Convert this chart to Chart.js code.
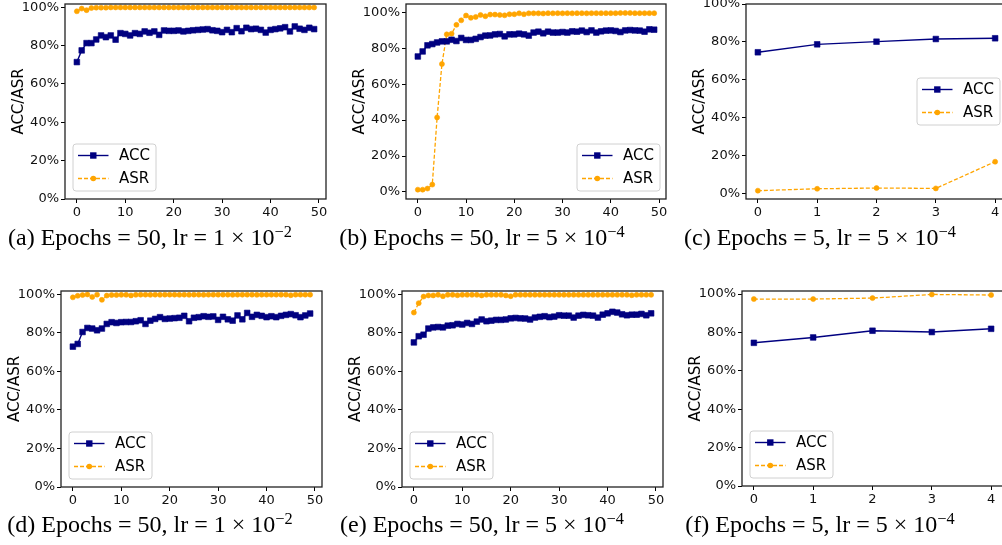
<!DOCTYPE html>
<html><head><meta charset="utf-8">
<script src="https://cdn.jsdelivr.net/npm/chart.js@4"></script>
<style>
html,body{margin:0;padding:0;background:#fff;overflow:hidden;width:1002px;height:545px;position:relative}
canvas{position:absolute}
.cap{position:absolute;font-family:'Liberation Serif','Times New Roman',serif;font-size:24px;color:#000;white-space:nowrap;transform:translateX(-50%);line-height:24px}
.cap sup{font-size:0.68em;vertical-align:0.5em;line-height:0}
</style></head><body>
<script>
// ---------- data ----------
const epochs50 = [0,1,2,3,4,5,6,7,8,9,10,11,12,13,14,15,16,17,18,19,20,21,22,23,24,25,26,27,28,29,30,31,32,33,34,35,36,37,38,39,40,41,42,43,44,45,46,47,48,49];
const epochs5 = [0,1,2,3,4];
const xTicks50 = [0,10,20,30,40,50];
const xTicks5 = [0,1,2,3,4];
const yTicks = [0,20,40,60,80,100];

const accA = [71.4,77.5,81.3,81.3,83.2,85.3,84.4,85.3,83.1,86.5,
              86.1,85.3,86.5,86.1,87.4,86.7,87.4,85.6,87.9,87.7,
              87.7,87.9,87.4,87.7,88.0,88.2,88.4,88.6,88.0,87.7,
              87.0,88.2,87.0,89.1,87.5,89.3,88.6,88.8,88.2,86.8,
              88.2,88.6,89.0,89.6,87.4,90.0,88.8,88.2,89.3,88.6];
const asrA = [97.9,99.3,98.5,99.6,99.8,99.8,99.8,99.9,99.9,99.9,
              99.9,99.9,99.9,99.9,99.9,99.9,99.9,99.9,99.9,99.9,
              99.9,99.9,99.9,99.9,99.9,99.9,99.9,99.9,99.9,99.9,
              99.9,99.9,99.9,99.9,99.9,99.9,99.9,99.9,99.9,99.9,
              99.9,99.9,99.9,99.9,99.9,99.9,99.9,99.9,99.9,99.9];

const accB = [75.4,78.2,81.6,82.3,83.2,83.8,83.8,84.7,84.0,85.7,
              84.6,84.6,85.2,86.2,87.0,87.1,87.7,87.9,86.6,87.7,
              87.7,88.1,87.7,87.0,88.7,89.2,88.3,89.2,88.7,88.7,
              89.0,88.7,89.4,89.2,89.8,89.0,89.9,88.7,89.4,89.8,
              89.9,89.6,89.0,89.9,90.1,89.9,89.8,89.2,90.5,90.3];
const asrB = [1.3,1.3,1.9,4.1,41.5,71.2,87.7,88.1,93.0,95.5,
              98.2,96.9,97.4,98.5,97.8,98.7,98.7,98.5,98.3,98.9,
              98.9,99.4,98.9,99.4,99.4,99.4,99.3,99.5,99.4,99.5,
              99.4,99.5,99.4,99.5,99.5,99.4,99.5,99.5,99.5,99.5,
              99.5,99.5,99.6,99.6,99.6,99.5,99.5,99.5,99.5,99.5];

const accC = [74.5,78.7,80.1,81.5,81.9];
const asrC = [1.4,2.4,2.8,2.6,16.7];

const accD = [72.9,74.3,80.5,82.6,82.3,81.4,82.3,84.7,85.6,85.2,
              85.6,85.7,85.7,86.1,86.6,84.7,86.4,87.3,88.2,87.3,
              87.5,87.7,87.9,88.9,86.1,87.9,88.2,88.7,88.4,88.6,
              86.8,88.4,87.1,86.4,89.1,87.1,90.4,88.4,89.4,88.9,
              88.2,88.7,88.2,88.9,89.4,89.8,89.2,88.2,89.1,90.1];
const asrD = [98.5,99.3,99.7,100.0,98.7,99.9,97.2,99.4,99.7,99.7,
              99.8,99.8,99.5,99.8,99.9,99.9,99.8,99.9,99.8,99.9,
              99.9,99.9,99.8,99.9,99.8,99.9,99.9,99.8,99.9,99.9,
              99.9,99.9,99.9,99.8,99.9,99.9,99.9,99.9,99.8,99.9,
              99.9,99.9,99.9,99.9,99.9,99.6,99.9,99.9,99.9,99.9];

const accE = [75.1,78.3,79.1,82.3,82.9,83.1,82.9,83.8,84.0,84.7,
              84.4,85.2,84.7,85.9,87.0,86.1,86.4,86.8,86.8,87.0,
              87.6,87.8,87.6,87.5,87.0,88.0,88.4,88.7,88.2,88.5,
              89.2,89.0,89.0,88.0,89.0,89.4,89.2,89.0,88.0,89.5,
              90.2,91.0,90.6,89.7,89.2,89.5,89.5,89.9,89.2,90.2];
const asrE = [90.6,95.5,98.9,99.5,99.5,99.8,99.1,99.8,99.8,99.6,
              99.8,99.8,99.8,99.8,99.5,99.8,99.8,99.8,99.8,99.5,
              99.1,99.8,99.8,99.8,99.8,99.8,99.8,99.8,99.8,99.8,
              99.8,99.8,99.8,99.8,99.8,99.8,99.8,99.8,99.8,99.8,
              99.8,99.8,99.8,99.8,99.8,99.6,99.8,99.8,99.8,99.8];

const accF = [74.6,77.4,80.9,80.2,81.9];
const asrF = [97.4,97.4,97.9,99.8,99.5];

const seriesNames = ['ACC','ASR'];
const yTitle = 'ACC/ASR';
const captions = [
  '(a) Epochs = 50, lr = 1 × 10<sup>−2</sup>',
  '(b) Epochs = 50, lr = 5 × 10<sup>−4</sup>',
  '(c) Epochs = 5, lr = 5 × 10<sup>−4</sup>',
  '(d) Epochs = 50, lr = 1 × 10<sup>−2</sup>',
  '(e) Epochs = 50, lr = 5 × 10<sup>−4</sup>',
  '(f) Epochs = 5, lr = 5 × 10<sup>−4</sup>'
];

// ---------- layout / style ----------
const NAVY = '#000080', ORANGE = '#FFA500';
const panels = [
  {x:epochs50, acc:accA, asr:asrA, xt:xTicks50, xMin:-2.45, xMax:51.45, yMin:0,    yMax:101.7, L:65,  T:4,   W:261, H:195, leg:'ll'},
  {x:epochs50, acc:accB, asr:asrB, xt:xTicks50, xMin:-2.45, xMax:51.45, yMin:-3.9, yMax:104.6, L:406, T:4,   W:260, H:195, leg:'lr'},
  {x:epochs5,  acc:accC, asr:asrC, xt:xTicks5,  xMin:-0.2,  xMax:4.2,   yMin:-3,   yMax:100,   L:746, T:4,   W:261, H:195, leg:'cr'},
  {x:epochs50, acc:accD, asr:asrD, xt:xTicks50, xMin:-2.45, xMax:51.45, yMin:0,    yMax:101.8, L:61,  T:291, W:261, H:196, leg:'ll'},
  {x:epochs50, acc:accE, asr:asrE, xt:xTicks50, xMin:-2.45, xMax:51.45, yMin:0,    yMax:101.8, L:402, T:291, W:261, H:196, leg:'ll'},
  {x:epochs5,  acc:accF, asr:asrF, xt:xTicks5,  xMin:-0.2,  xMax:4.2,   yMin:0,    yMax:101.6, L:742, T:291, W:261, H:195, leg:'ll'}
];
const capPos = [[150,237],[482,237],[820,237],[150,524],[482,524],[820,524]];

const FONT = 'DejaVu Sans';
const framePlugin = {
  id:'mplFrame',
  afterDatasetsDraw(chart){
    const {ctx, chartArea:a} = chart;
    ctx.save();
    ctx.strokeStyle = '#222'; ctx.lineWidth = 1.3;
    ctx.strokeRect(a.left, a.top, a.right - a.left, a.bottom - a.top);
    ctx.restore();
  }
};
const legendPlugin = {
  id:'mplLegend',
  afterDraw(chart, args, opts){
    const {ctx, chartArea:a} = chart;
    const bw = 83, bh = 47;
    let bx, by;
    if (opts.pos === 'll') { bx = a.left + 8; by = a.bottom - 8 - bh; }
    else if (opts.pos === 'lr') { bx = a.right - 6 - bw; by = a.bottom - 8 - bh; }
    else { bx = a.right - 7 - bw; by = (a.top + a.bottom)/2 - bh/2; }
    ctx.save();
    ctx.beginPath();
    const r = 3;
    ctx.moveTo(bx + r, by); ctx.arcTo(bx + bw, by, bx + bw, by + bh, r);
    ctx.arcTo(bx + bw, by + bh, bx, by + bh, r); ctx.arcTo(bx, by + bh, bx, by, r);
    ctx.arcTo(bx, by, bx + bw, by, r); ctx.closePath();
    ctx.fillStyle = 'rgba(255,255,255,0.85)'; ctx.fill();
    ctx.strokeStyle = '#d0d0d0'; ctx.lineWidth = 1; ctx.stroke();
    chart.data.datasets.forEach((ds, i) => {
      const cy = by + 11.5 + i * 23;
      ctx.beginPath();
      ctx.strokeStyle = ds.borderColor; ctx.lineWidth = ds.borderWidth;
      ctx.setLineDash(ds.borderDash || []);
      ctx.moveTo(bx + 5, cy); ctx.lineTo(bx + 35.5, cy); ctx.stroke();
      ctx.setLineDash([]);
      const mx = bx + 20.3;
      ctx.fillStyle = ds.backgroundColor;
      if (ds.pointStyle === 'rect') { ctx.fillRect(mx - 3.2, cy - 3.2, 6.4, 6.4); }
      else { ctx.beginPath(); ctx.arc(mx, cy, 2.8, 0, Math.PI*2); ctx.fill(); }
      ctx.fillStyle = '#000';
      ctx.font = '15px "' + FONT + '"';
      ctx.textBaseline = 'middle';
      ctx.fillText(ds.label, bx + 46, cy + 0.5);
    });
    ctx.restore();
  }
};

function makePanel(p){
  const padL = 62, padT = 10, padR = 16, padB = 24;
  const w = padL + p.W + padR, h = padT + p.H + padB;
  const cv = document.createElement('canvas');
  cv.width = w; cv.height = h;
  cv.style.left = (p.L - padL) + 'px'; cv.style.top = (p.T - padT) + 'px';
  cv.style.width = w + 'px'; cv.style.height = h + 'px';
  document.body.appendChild(cv);
  const gridOpts = {display:true, drawOnChartArea:false, drawTicks:true, tickLength:4, color:'#000', lineWidth:1};
  new Chart(cv, {
    type:'line',
    data:{datasets:[
      {label:seriesNames[0], data:p.x.map((e,i)=>({x:e, y:p.acc[i]})), borderColor:NAVY, backgroundColor:NAVY,
       borderWidth:1.4, pointStyle:'rect', pointRadius:4, pointBorderWidth:0.6, tension:0},
      {label:seriesNames[1], data:p.x.map((e,i)=>({x:e, y:p.asr[i]})), borderColor:ORANGE, backgroundColor:ORANGE,
       borderWidth:1.3, borderDash:[4,2], pointStyle:'circle', pointRadius:2.5, pointBorderWidth:0.6, tension:0}
    ]},
    options:{
      responsive:false, animation:false, devicePixelRatio:1,
      layout:{padding:{left:0, top:padT, right:padR, bottom:0}},
      plugins:{legend:{display:false}, tooltip:{enabled:false}, mplLegend:{pos:p.leg}},
      scales:{
        x:{type:'linear', min:p.xMin, max:p.xMax,
           afterBuildTicks:s=>{ s.ticks = p.xt.map(v=>({value:v})); },
           afterFit:s=>{ s.height = padB; },
           grid:gridOpts, border:{display:false},
           ticks:{font:{family:FONT, size:13}, color:'#111', padding:2, maxRotation:0, autoSkip:false}},
        y:{type:'linear', min:p.yMin, max:p.yMax,
           afterBuildTicks:s=>{ s.ticks = yTicks.map(v=>({value:v})); },
           afterFit:s=>{ s.width = padL; },
           grid:gridOpts, border:{display:false},
           ticks:{font:{family:FONT, size:13}, color:'#111', padding:2, callback:v=>v + '%'},
           title:{display:true, text:yTitle, font:{family:FONT, size:15}, color:'#000', padding:{top:7, bottom:0}}}
      }
    },
    plugins:[framePlugin, legendPlugin]
  });
}
panels.forEach(makePanel);
captions.forEach((c, i) => {
  const d = document.createElement('div');
  d.className = 'cap'; d.innerHTML = c;
  d.style.left = capPos[i][0] + 'px'; d.style.top = (capPos[i][1] - 12) + 'px';
  document.body.appendChild(d);
});
</script>
</body></html>
